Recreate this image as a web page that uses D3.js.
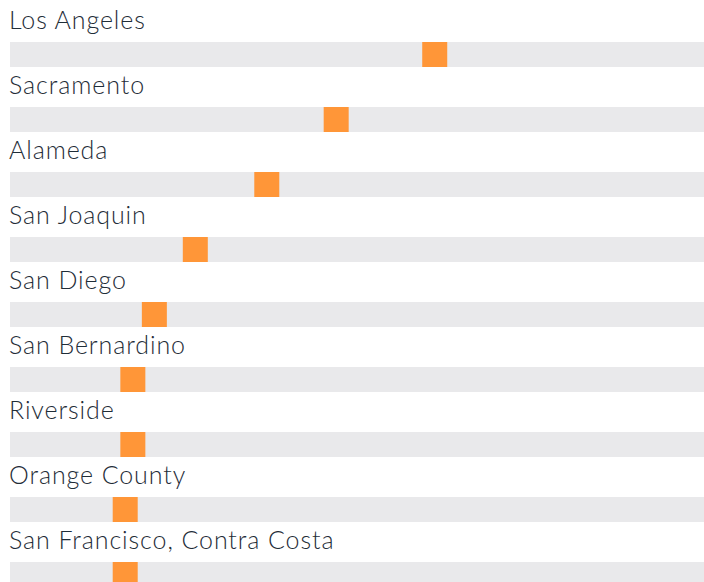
<!DOCTYPE html>
<html>
<head>
<meta charset="utf-8">
<script src="https://cdn.jsdelivr.net/npm/d3@7"></script>
<style>
  body { margin: 0; background: #fff; }
  svg { display: block; }
</style>
</head>
<body>
<svg id="chart"></svg>
<script>
// counties, top to bottom
const counties = ["Los Angeles", "Sacramento", "Alameda", "San Joaquin", "San Diego",
    "San Bernardino", "Riverside", "Orange County", "San Francisco, Contra Costa"];
// marker position on the track (0-100)
const values = [61.2, 47.0, 37.0, 26.7, 20.8, 17.7, 17.7, 16.6, 16.6];

const width = 704, height = 582;
const margin = {left: 10, right: 0, top: 42};
const rowH = 65, trackH = 25, markerW = 25;

const svg = d3.select("#chart")
    .attr("width", width)
    .attr("height", height);

const x = d3.scaleLinear()
    .domain([0, 100])
    .range([margin.left, width - margin.right]);

const y = d3.scaleBand()
    .domain(counties)
    .range([margin.top, margin.top + rowH * counties.length])
    .paddingInner(0);

const data = counties.map((c, i) => ({county: c, value: values[i]}));

const rows = svg.selectAll("g.row")
    .data(data)
    .join("g")
    .attr("class", "row")
    .attr("transform", d => `translate(0,${y(d.county)})`);

rows.append("text")
    .attr("x", 9)
    .attr("y", -13)
    .attr("fill", "#1f2d38")
    .style("font-family", "Lato, sans-serif")
    .style("font-weight", 300)
    .style("letter-spacing", "0.9px")
    .style("font-size", "25px")
    .text(d => d.county);

rows.append("rect")
    .attr("x", x(0))
    .attr("y", 0)
    .attr("width", x(100) - x(0))
    .attr("height", trackH)
    .attr("fill", "#e9e9eb");

rows.append("rect")
    .attr("x", d => x(d.value) - markerW / 2)
    .attr("y", 0)
    .attr("width", markerW)
    .attr("height", trackH)
    .attr("fill", "#ff9638");
</script>
</body>
</html>
